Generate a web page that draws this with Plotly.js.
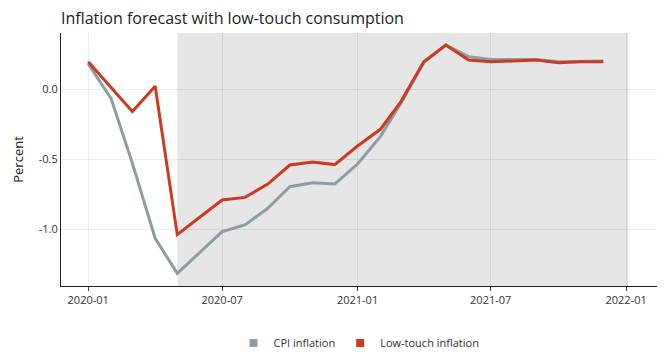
<!DOCTYPE html>
<html>
<head>
<meta charset="utf-8">
<script src="https://cdn.plot.ly/plotly-3.0.1.min.js"></script>
<style>html,body{margin:0;padding:0;background:#fff}#chart{width:670px;height:355px}</style>
</head>
<body>
<div id="chart"></div>
<script>
const months = ["2020-01-01","2020-02-01","2020-03-01","2020-04-01","2020-05-01","2020-06-01","2020-07-01","2020-08-01","2020-09-01","2020-10-01","2020-11-01","2020-12-01","2021-01-01","2021-02-01","2021-03-01","2021-04-01","2021-05-01","2021-06-01","2021-07-01","2021-08-01","2021-09-01","2021-10-01","2021-11-01","2021-12-01"];
const cpiInflation = [0.18,-0.067,-0.53,-1.066,-1.317,-1.164,-1.019,-0.971,-0.852,-0.698,-0.669,-0.679,-0.536,-0.34,-0.10,0.188,0.314,0.231,0.21,0.21,0.21,0.195,0.20,0.20];
const lowTouchInflation = [0.195,0.01,-0.16,0.02,-1.04,-0.914,-0.793,-0.774,-0.679,-0.543,-0.521,-0.54,-0.407,-0.288,-0.09,0.195,0.314,0.207,0.195,0.20,0.207,0.188,0.195,0.195];
const seriesNames = ["CPI inflation","Low-touch inflation"];
const seriesColors = ["#8c9ea3","#cc3a22"];
const forecastStart = "2020-05-01";
const forecastEnd = "2022-01-04";
const yTickVals = [-1.0,-0.5,0.0];
const yTickText = ["-1.0","-0.5","0.0"];

const font = "'Open Sans', 'Noto Sans', sans-serif";
const series = [cpiInflation, lowTouchInflation];
const data = [];
series.forEach((vals, i) => {
  data.push({x: months, y: vals, name: seriesNames[i], type: "scatter", mode: "lines",
    line: {color: seriesColors[i], width: 3}, showlegend: false, legendgroup: "g" + i});
});
series.forEach((vals, i) => {
  data.push({x: [null], y: [null], name: seriesNames[i], type: "scatter", mode: "markers",
    marker: {color: seriesColors[i], symbol: "square", size: 8}, showlegend: true, legendgroup: "g" + i});
});
const layout = {
  width: 670, height: 355,
  margin: {l: 61, r: 13, t: 33, b: 69, autoexpand: false},
  paper_bgcolor: "#fff", plot_bgcolor: "#fff",
  font: {family: font, color: "#333", size: 11},
  title: {text: "Inflation forecast with low-touch consumption", x: 61/670, xref: "container", xanchor: "left",
          y: 1 - 18/355, yref: "container", yanchor: "middle",
          font: {family: font, size: 16, color: "#222"}},
  xaxis: {type: "date", range: ["2019-11-25", "2022-02-12"], tick0: "2020-01-01", dtick: "M6",
          tickformat: "%Y-%m", showgrid: true, gridcolor: "rgba(0,0,0,0.07)", gridwidth: 1,
          showline: true, linecolor: "#222", linewidth: 1, ticks: "outside", ticklen: 4, tickcolor: "#444",
          zeroline: false, tickfont: {size: 11, color: "#333"}},
  yaxis: {range: [-1.407, 0.4], tickvals: yTickVals, ticktext: yTickText,
          showgrid: true, gridcolor: "rgba(0,0,0,0.07)", gridwidth: 1,
          showline: true, linecolor: "#222", linewidth: 1, ticks: "", zeroline: false,
          title: {text: "Percent", font: {size: 13, color: "#222"}, standoff: 12},
          tickfont: {size: 11, color: "#333"}},
  shapes: [{type: "rect", xref: "x", yref: "paper", x0: forecastStart, x1: forecastEnd, y0: 0, y1: 1,
            fillcolor: "#e6e6e6", line: {width: 0}, layer: "below"}],
  showlegend: true,
  legend: {orientation: "h", x: 0.5, xanchor: "center", y: -57/253, yanchor: "middle",
           font: {size: 11, color: "#333"}, itemwidth: 30, traceorder: "normal"},
};
Plotly.newPlot("chart", data, layout, {displayModeBar: false, staticPlot: true});
</script>
</body>
</html>
